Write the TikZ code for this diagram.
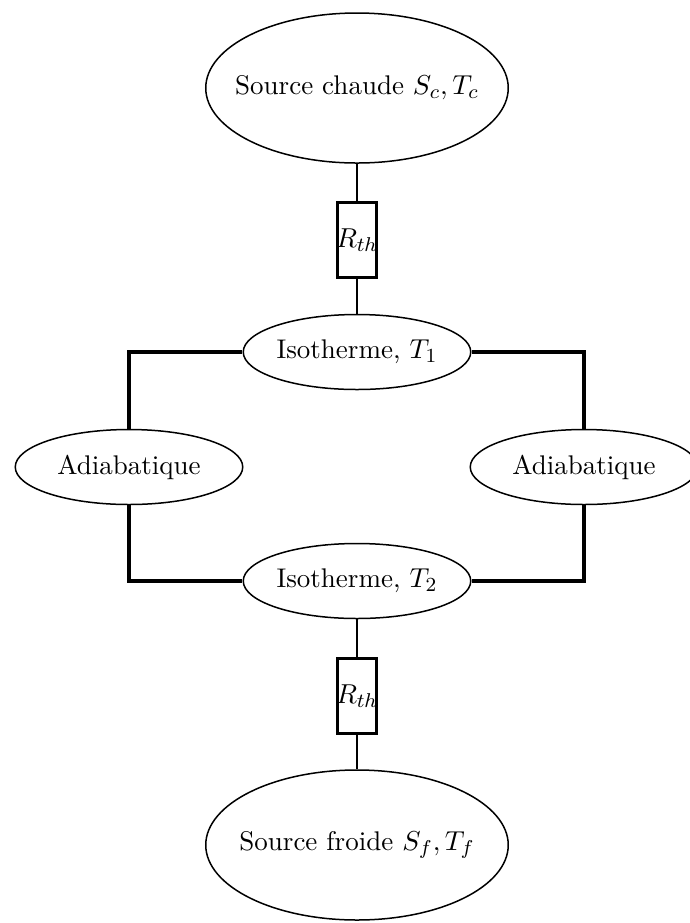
\documentclass[tikz,border=0pt]{standalone}
\usetikzlibrary{shapes.geometric}

\begin{document}
\begin{tikzpicture}[x=0.4pt,y=-0.4pt,font=\fontsize{10.8}{13}\selectfont,
    source/.style={ellipse,draw,line width=0.6pt,minimum width=121pt,minimum height=60pt,inner xsep=-7pt,inner ysep=0pt},
    iso/.style={ellipse,draw,line width=0.6pt,minimum width=91pt,minimum height=30pt,inner xsep=-2pt,inner ysep=0pt},
    resist/.style={rectangle,draw,line width=0.9pt,minimum width=15.6pt,minimum height=30pt,inner sep=0pt},
    wire/.style={line width=0.9pt},
    loopwire/.style={line width=1.6pt}]
  \useasboundingbox (0,0) rectangle (689,923);
  % sources and resistances
  \node[source] (chaude) at (357,88) {Source chaude $S_c, T_c$};
  \node[resist] (rc) at (357,240) {};
  \node[inner sep=0pt] (rclab) at (rc) {$R_{th}$};
  \node[iso] (iso1) at (357,352) {Isotherme, $T_1$};
  \node[iso] (adg) at (129,467) {Adiabatique};
  \node[iso] (add) at (584,467) {Adiabatique};
  \node[iso] (iso2) at (357,581) {Isotherme, $T_2$};
  \node[resist] (rf) at (357,696) {};
  \node[inner sep=0pt] (rflab) at (rf) {$R_{th}$};
  \node[source] (froide) at (357,845) {Source froide $S_f, T_f$};
  % thin links
  \draw[wire] (chaude) -- (rc);
  \draw[wire] (rc) -- (iso1);
  \draw[wire] (iso2) -- (rf);
  \draw[wire] (rf) -- (froide);
  % cycle
  \draw[loopwire] (iso1.west) -| (adg.north);
  \draw[loopwire] (adg.south) |- (iso2.west);
  \draw[loopwire] (iso1.east) -| (add.north);
  \draw[loopwire] (add.south) |- (iso2.east);
\end{tikzpicture}
\end{document}
